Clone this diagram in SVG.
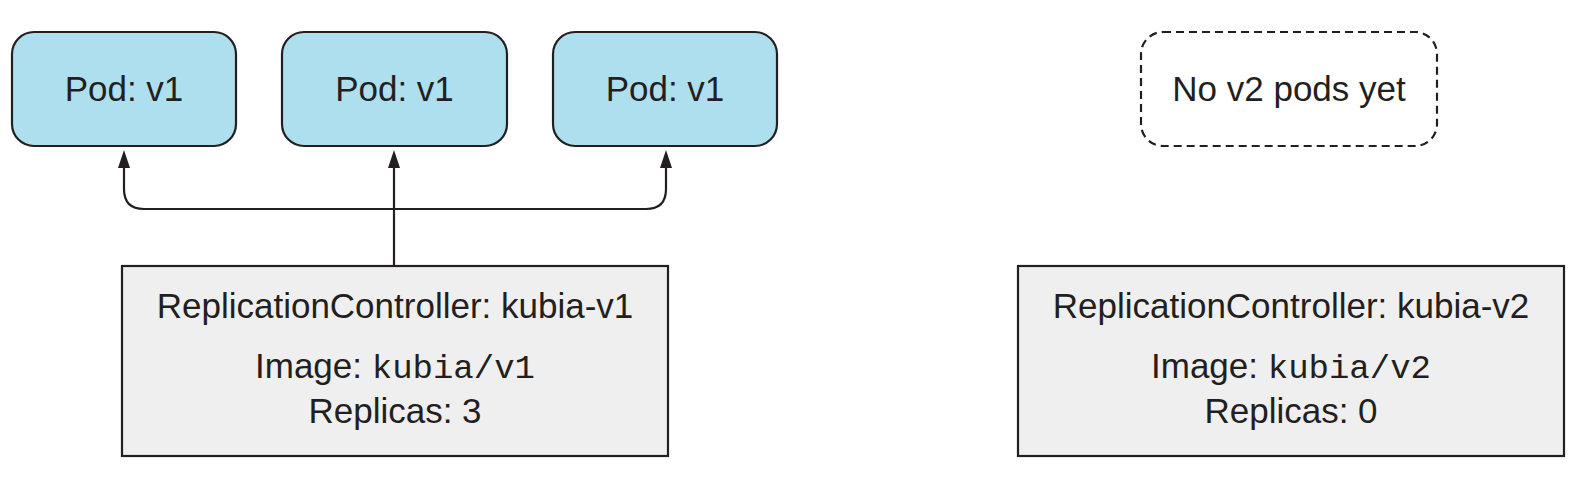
<svg xmlns="http://www.w3.org/2000/svg" width="1596" height="491" viewBox="0 0 1596 491">
<style>
.pod{fill:#aedfee;stroke:#231f20;stroke-width:2.2}
.ghost{fill:#ffffff;stroke:#231f20;stroke-width:2.2;stroke-dasharray:8 5}
.rc{fill:#efefef;stroke:#231f20;stroke-width:2.2}
.t{font-family:"Liberation Sans",Arial,sans-serif;font-size:35px;fill:#231f20;text-anchor:middle}
.m{font-family:"Liberation Mono","Courier New",monospace;font-size:34px}
.c{fill:none;stroke:#231f20;stroke-width:2.2}
</style>
<defs>
<marker id="ah" markerUnits="userSpaceOnUse" markerWidth="18" markerHeight="12" viewBox="0 0 18 12" refX="8" refY="6" orient="auto">
<path d="M0 0 L18 6 L0 12 Z" fill="#231f20"/>
</marker>
</defs>
<g id="connectors">
<path class="c" d="M394 266 V160" marker-end="url(#ah)"/>
<path class="c" d="M394 209 H144 Q124 209 124 189 V160" marker-end="url(#ah)"/>
<path class="c" d="M394 209 H646 Q666 209 666 189 V160" marker-end="url(#ah)"/>
</g>
<g id="pod1">
<rect class="pod" x="12" y="32" width="224" height="114" rx="22"/>
<text class="t" x="124" y="101">Pod: v1</text>
</g>
<g id="pod2">
<rect class="pod" x="282" y="32" width="225" height="114" rx="22"/>
<text class="t" x="394.5" y="101">Pod: v1</text>
</g>
<g id="pod3">
<rect class="pod" x="553" y="32" width="224" height="114" rx="22"/>
<text class="t" x="665" y="101">Pod: v1</text>
</g>
<g id="nov2">
<rect class="ghost" x="1141" y="32" width="296" height="114" rx="22"/>
<text class="t" x="1289" y="101">No v2 pods yet</text>
</g>
<g id="rc1">
<rect class="rc" x="122" y="266" width="546" height="190"/>
<text class="t" x="395" y="318">ReplicationController: kubia-v1</text>
<text class="t" x="395" y="378">Image: <tspan class="m">kubia/v1</tspan></text>
<text class="t" x="395" y="423">Replicas: 3</text>
</g>
<g id="rc2">
<rect class="rc" x="1018" y="266" width="546" height="190"/>
<text class="t" x="1291" y="318">ReplicationController: kubia-v2</text>
<text class="t" x="1291" y="378">Image: <tspan class="m">kubia/v2</tspan></text>
<text class="t" x="1291" y="423">Replicas: 0</text>
</g>
</svg>
